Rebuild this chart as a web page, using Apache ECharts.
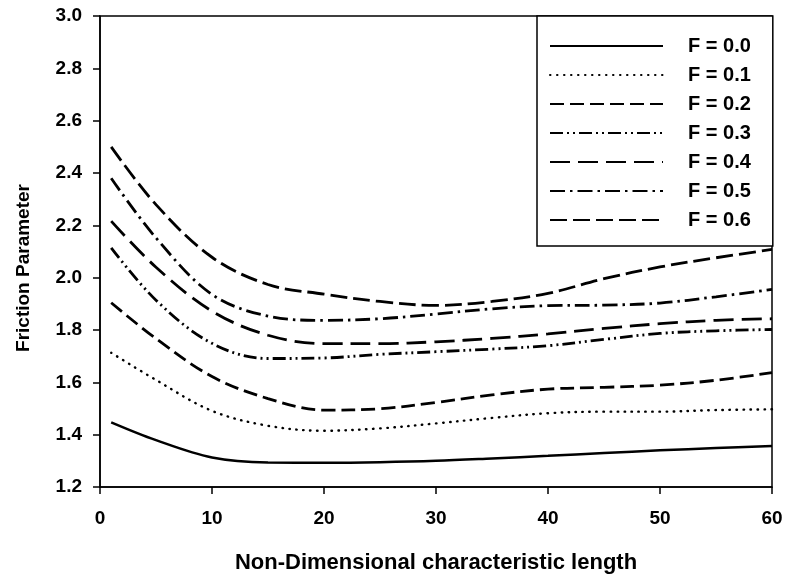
<!DOCTYPE html>
<html>
<head>
<meta charset="utf-8">
<script src="https://cdn.jsdelivr.net/npm/echarts@6/dist/echarts.min.js"></script>
<style>
html,body{margin:0;padding:0;background:#fff;}
#chart{width:787px;height:579px;}
</style>
</head>
<body>
<div id="chart"></div>
<script>
const xValues = [1, 5, 10, 15, 20, 25, 30, 35, 40, 45, 50, 55, 60];
const f00 = [1.447, 1.379, 1.313, 1.294, 1.293, 1.295, 1.300, 1.309, 1.319, 1.330, 1.340, 1.349, 1.357];
const f01 = [1.713, 1.609, 1.491, 1.434, 1.415, 1.424, 1.443, 1.464, 1.482, 1.488, 1.488, 1.494, 1.497];
const f02 = [1.904, 1.767, 1.622, 1.538, 1.494, 1.499, 1.523, 1.552, 1.574, 1.581, 1.589, 1.608, 1.637];
const f03 = [2.114, 1.914, 1.749, 1.691, 1.693, 1.707, 1.717, 1.727, 1.740, 1.764, 1.787, 1.797, 1.802];
const f04 = [2.216, 2.040, 1.872, 1.780, 1.748, 1.748, 1.755, 1.768, 1.785, 1.806, 1.824, 1.837, 1.843];
const f05 = [2.380, 2.152, 1.936, 1.853, 1.837, 1.843, 1.861, 1.881, 1.893, 1.895, 1.903, 1.927, 1.955];
const f06 = [2.500, 2.279, 2.078, 1.974, 1.937, 1.909, 1.894, 1.909, 1.940, 1.996, 2.041, 2.076, 2.108];
const seriesNames = ['F = 0.0', 'F = 0.1', 'F = 0.2', 'F = 0.3', 'F = 0.4', 'F = 0.5', 'F = 0.6'];
const seriesValues = [f00, f01, f02, f03, f04, f05, f06];
const xAxisName = 'Non-Dimensional characteristic length';
const yAxisName = 'Friction Parameter';

const styles = [
  { type: 'solid', width: 2.5, cap: 'butt' },
  { type: [0.5, 6.5], width: 2.4, cap: 'round' },
  { type: [14, 6], width: 2.8, cap: 'butt' },
  { type: [13, 4, 2, 4, 2, 4], width: 2.8, cap: 'butt' },
  { type: [20, 8], width: 2.8, cap: 'butt' },
  { type: [15, 5, 2.5, 5], width: 2.8, cap: 'butt' },
  { type: [17, 6], width: 2.8, cap: 'butt' }
];

const font = '"Liberation Sans", Arial, sans-serif';
const chart = echarts.init(document.getElementById('chart'), null, { renderer: 'canvas' });

const series = seriesNames.map((name, i) => ({
  name: name,
  type: 'line',
  smooth: 0.35,
  symbol: 'none',
  data: xValues.map((x, j) => [x, seriesValues[i][j]]),
  lineStyle: { color: '#000', width: styles[i].width, type: styles[i].type, cap: styles[i].cap },
  itemStyle: { color: '#000' },
  emphasis: { disabled: true },
  animation: false
}));

chart.setOption({
  animation: false,
  backgroundColor: '#fff',
  grid: { left: 100, right: 15, top: 16, bottom: 91, show: true, borderColor: '#000', borderWidth: 1.5, backgroundColor: 'transparent' },
  xAxis: {
    type: 'value', min: 0, max: 60, interval: 10,
    name: xAxisName, nameLocation: 'middle', nameGap: 65,
    nameTextStyle: { fontFamily: font, fontWeight: 'bold', fontSize: 22, color: '#000' },
    axisLine: { show: true, lineStyle: { color: '#000', width: 1.5 } },
    axisTick: { show: true, inside: false, length: 7, lineStyle: { color: '#000', width: 1.5 } },
    axisLabel: { fontFamily: font, fontWeight: 'bold', fontSize: 19, color: '#000', margin: 22 },
    splitLine: { show: false }
  },
  yAxis: {
    type: 'value', min: 1.2, max: 3.0, interval: 0.2,
    axisLine: { show: true, lineStyle: { color: '#000', width: 1.5 } },
    axisTick: { show: true, inside: false, length: 7, lineStyle: { color: '#000', width: 1.5 } },
    axisLabel: { fontFamily: font, fontWeight: 'bold', fontSize: 19, color: '#000', margin: 18, formatter: v => v.toFixed(1) },
    splitLine: { show: false }
  },
  legend: {
    orient: 'vertical', left: 537, top: 16,
    data: seriesNames,
    backgroundColor: '#fff', borderColor: '#000', borderWidth: 1.5,
    padding: [20, 22, 16, 12],
    itemWidth: 113, itemHeight: 14, itemGap: 9,
    itemStyle: { opacity: 0 },
    textStyle: { fontFamily: font, fontWeight: 'bold', fontSize: 20, color: '#000', lineHeight: 18, padding: [0, 0, 0, 20] },
    selectedMode: false
  },
  graphic: [{
    type: 'text', x: 24, y: 268, rotation: Math.PI / 2,
    style: { text: yAxisName, fontFamily: font, fontWeight: 'bold', fontSize: 19, fill: '#000', align: 'center', verticalAlign: 'middle' }
  }],
  series: series
});
</script>
</body>
</html>
